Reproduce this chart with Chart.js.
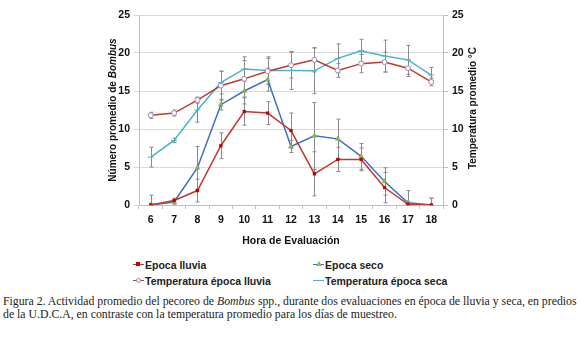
<!DOCTYPE html>
<html>
<head>
<meta charset="utf-8">
<script src="https://cdn.jsdelivr.net/npm/chart.js@4/dist/chart.umd.min.js"></script>
<style>
  html, body { margin: 0; padding: 0; background: #fff; }
  #wrap { position: relative; width: 580px; height: 337px; overflow: hidden; }
  #chartBox { position: absolute; left: 0; top: 0; width: 580px; height: 252px; }
  .legend-item { position: absolute; font: bold 10.5px "Liberation Sans", Arial, sans-serif; color: #222; white-space: nowrap; line-height: 12px; }
  .legend-line { position: absolute; top: 5px; left: 0; width: 11px; height: 0; border-top: 1.5px solid; }
  .legend-mark { position: absolute; top: 3px; left: 3px; width: 4px; height: 4px; }
  .legend-text { position: absolute; left: 12px; top: 0; }
  #caption { position: absolute; left: 3px; top: 295px; font: 10px "Liberation Serif", serif; color: #222; line-height: 13px; white-space: nowrap; }
</style>
</head>
<body>
<div id="wrap">
  <div id="chartBox"><canvas id="chart"></canvas></div>
  <div id="legend"></div>
  <div id="caption"><span id="cap1">Figura 2. Actividad promedio del pecoreo de <i>Bombus</i> spp., durante dos evaluaciones en época de lluvia y seca, en predios</span><br>de la U.D.C.A, en contraste con la temperatura promedio para los días de muestreo.</div>
</div>
<script>
// Hours and series
var hours = ['6', '7', '8', '9', '10', '11', '12', '13', '14', '15', '16', '17', '18'];

var lluvia = [0, 0.6, 1.9, 7.8, 12.3, 12.1, 9.8, 4.1, 6.0, 6.0, 2.3, 0.1, 0];
var lluviaErr = [1.3, 0.3, 1.5, 1.7, 1.8, 1.5, 2.3, 2.9, 1.6, 1.5, 2.0, 0.3, 0.9];

var seco = [0, 0.4, 4.9, 13.2, 15.0, 16.5, 7.7, 9.1, 8.7, 6.4, 3.1, 0.3, 0];
var secoErr = [0.2, 0.3, 2.8, 0.7, 1.7, 1.5, 0.8, 4.4, 2.6, 1.7, 1.8, 1.6, 0.9];

var tempLluvia = [11.8, 12.1, 13.8, 15.7, 16.6, 17.6, 18.4, 19.1, 17.7, 18.6, 18.8, 18.0, 16.2];
var tempLluviaErr = [0.4, 0.4, 0.4, 1.9, 2.4, 1.7, 1.7, 1.6, 0.9, 1.2, 1.3, 1.1, 0.5];

var tempSeca = [6.3, 8.5, 12.5, 16.1, 17.9, 17.7, 17.7, 17.65, 19.3, 20.3, 19.6, 19.1, 17.1];
var tempSecaErr = [1.3, 0.3, 1.6, 1.5, 1.6, 1.8, 2.5, 3.0, 1.9, 1.5, 2.1, 1.9, 1.0];

var yTicks = [0, 5, 10, 15, 20, 25];

var RED = '#c0392b';
var BLUE = '#3f6fc0';
var CYAN = '#4bb3c9';
var GRID = '#d9d9d9';
var FAMILY = '"Liberation Sans", Arial, sans-serif';
var TICK_FONT = { family: FAMILY, size: 10.5, weight: 'bold' };

// Error bars drawn behind lines, through the scales
var errorBars = {
  id: 'errorBars',
  beforeDatasetsDraw: function(chart) {
    var ctx = chart.ctx;
    ctx.save();
    ctx.strokeStyle = '#8a8a8a';
    ctx.lineWidth = 1;
    chart.data.datasets.forEach(function(ds, i) {
      if (!ds.errors) return;
      var meta = chart.getDatasetMeta(i);
      var scale = chart.scales[ds.yAxisID];
      meta.data.forEach(function(pt, j) {
        var e = ds.errors[j];
        if (!e) return;
        var v = ds.data[j];
        var y1 = scale.getPixelForValue(Math.max(0, v - e));
        var y2 = scale.getPixelForValue(v + e);
        var x = Math.round(pt.x) + 0.5;
        ctx.beginPath();
        ctx.moveTo(x, y1); ctx.lineTo(x, y2);
        ctx.moveTo(x - 2, y1); ctx.lineTo(x + 2, y1);
        ctx.moveTo(x - 2, y2); ctx.lineTo(x + 2, y2);
        ctx.stroke();
      });
    });
    ctx.restore();
  }
};

// Vertical axis titles, both reading bottom-to-top, with italic "Bombus"
var axisTitles = {
  id: 'axisTitles',
  afterDraw: function(chart) {
    var ctx = chart.ctx;
    var area = chart.chartArea;
    var cy = (area.top + area.bottom) / 2;
    var bold = 'bold 10px ' + FAMILY;
    var boldItalic = 'italic bold 10px ' + FAMILY;
    ctx.save();
    ctx.fillStyle = '#111';
    ctx.textBaseline = 'middle';

    // left title
    var a = 'Número promedio de ', b = 'Bombus';
    ctx.font = bold; var wa = ctx.measureText(a).width;
    ctx.font = boldItalic; var wb = ctx.measureText(b).width;
    ctx.save();
    ctx.translate(chart.scales.y.left + 14, cy);
    ctx.rotate(-Math.PI / 2);
    ctx.textAlign = 'left';
    ctx.font = bold; ctx.fillText(a, -(wa + wb) / 2, 0);
    ctx.font = boldItalic; ctx.fillText(b, -(wa + wb) / 2 + wa, 0);
    ctx.restore();

    // right title
    ctx.save();
    ctx.translate(chart.scales.y2.right - 10, cy - 2);
    ctx.rotate(-Math.PI / 2);
    ctx.textAlign = 'center';
    ctx.font = bold;
    ctx.fillText('Temperatura promedio °C', 0, 0);
    ctx.restore();
    ctx.restore();
  }
};

function fixedWidth(w) { return function(scale) { scale.width = w; }; }

var chart = new Chart(document.getElementById('chart'), {
  type: 'line',
  data: {
    labels: hours,
    datasets: [
      {
        label: 'Temperatura época lluvia', data: tempLluvia, errors: tempLluviaErr, yAxisID: 'y2',
        borderColor: RED, borderWidth: 1.5, pointStyle: 'circle', pointRadius: 2.5,
        pointBackgroundColor: '#fff', pointBorderColor: '#9a86b8', pointBorderWidth: 1
      },
      {
        label: 'Temperatura época seca', data: tempSeca, errors: tempSecaErr, yAxisID: 'y2',
        borderColor: CYAN, borderWidth: 1.5, pointStyle: 'line', pointRadius: 3,
        pointBorderColor: CYAN, pointBorderWidth: 1
      },
      {
        label: 'Epoca lluvia', data: lluvia, errors: lluviaErr, yAxisID: 'y',
        borderColor: RED, borderWidth: 1.5, pointStyle: 'rect', pointRadius: 2.3,
        pointBackgroundColor: '#c00000', pointBorderColor: '#c00000', pointBorderWidth: 0
      },
      {
        label: 'Epoca seco', data: seco, errors: secoErr, yAxisID: 'y',
        borderColor: BLUE, borderWidth: 1.5, pointStyle: 'triangle', pointRadius: 2.8,
        pointBackgroundColor: '#8fb84e', pointBorderColor: '#6fa03a', pointBorderWidth: 0.5
      }
    ]
  },
  options: {
    responsive: true,
    maintainAspectRatio: false,
    animation: false,
    layout: { padding: { left: 99, right: 97, top: 15, bottom: 5 } },
    plugins: { legend: { display: false }, tooltip: { enabled: false } },
    scales: {
      x: {
        offset: true,
        grid: { offset: true, drawOnChartArea: false, tickLength: 4, color: '#bfbfbf' },
        border: { color: '#bfbfbf' },
        ticks: { color: '#111', font: TICK_FONT, padding: 5, maxRotation: 0 },
        title: { display: true, text: 'Hora de Evaluación', color: '#111', font: TICK_FONT, padding: { top: 6, bottom: 0 } },
        afterFit: function(scale) { scale.height = 42; }
      },
      y: {
        position: 'left', min: 0, max: 25,
        afterBuildTicks: function(scale) { scale.ticks = yTicks.map(function(v) { return { value: v }; }); },
        grid: { color: GRID, tickLength: 5 },
        border: { color: '#bfbfbf' },
        ticks: { color: '#111', font: TICK_FONT, padding: 4 },
        afterFit: fixedWidth(40)
      },
      y2: {
        position: 'right', min: 0, max: 25,
        afterBuildTicks: function(scale) { scale.ticks = yTicks.map(function(v) { return { value: v }; }); },
        grid: { drawOnChartArea: false, color: '#bfbfbf', tickLength: 5 },
        border: { color: '#bfbfbf' },
        ticks: { color: '#111', font: TICK_FONT, padding: 4 },
        afterFit: fixedWidth(40)
      }
    }
  },
  plugins: [errorBars, axisTitles]
});

// Two-column legend below the chart
var legendItems = [
  { text: 'Epoca lluvia', color: RED, mark: 'background:#c00000', x: 133, y: 259 },
  { text: 'Epoca seco', color: BLUE, mark: 'width:0;height:0;top:2px;border-left:3px solid transparent;border-right:3px solid transparent;border-bottom:5px solid #8fb84e', x: 313, y: 259 },
  { text: 'Temperatura época lluvia', color: RED, mark: 'background:#fff;border:1px solid #9a86b8;width:3px;height:3px;border-radius:50%', x: 133, y: 275 },
  { text: 'Temperatura época seca', color: CYAN, mark: 'display:none', x: 313, y: 275 }
];
var legendHtml = '';
legendItems.forEach(function(it) {
  legendHtml += '<div class="legend-item" style="left:' + it.x + 'px;top:' + it.y + 'px">' +
    '<div class="legend-line" style="border-color:' + it.color + '"></div>' +
    '<div class="legend-mark" style="' + it.mark + '"></div>' +
    '<div class="legend-text">' + it.text + '</div></div>';
});
document.getElementById('legend').innerHTML = legendHtml;

// Fit caption's first line to the reference width (3..577)
var cap = document.getElementById('caption');
var w = document.getElementById('cap1').getBoundingClientRect().width;
cap.style.fontSize = (10 * 574 / w).toFixed(2) + 'px';
</script>
</body>
</html>
